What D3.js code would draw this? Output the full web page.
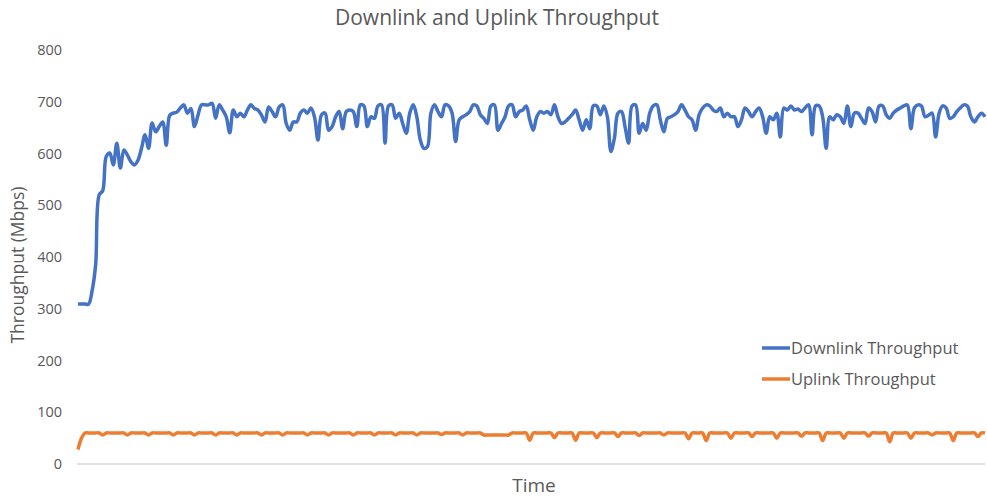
<!DOCTYPE html>
<html>
<head>
<meta charset="utf-8">
<script src="https://cdn.jsdelivr.net/npm/d3@7"></script>
<style>
  body { margin: 0; background: #fff; }
  text { font-family: "Open Sans", sans-serif; fill: #595959; }
</style>
</head>
<body>
<div id="container"></div>
<script>
// throughput samples in Mbps, one per time step
const downlink = [
  309, 309, 309, 309, 335, 385, 520, 528,
  594, 601, 578, 620, 572, 607, 597, 584, 578, 587, 610, 636, 610, 659, 642, 652, 661, 616, 674, 678, 680, 688, 694, 678,
  687, 652, 674, 694, 694, 694, 697, 668, 694, 684, 671, 640, 684, 671, 678, 671, 684, 694, 687, 684, 674, 661, 690, 681, 671, 690,
  694, 658, 645, 661, 661, 678, 684, 678, 688, 671, 626, 675, 678, 645, 652, 671, 681, 648, 681, 684,
  681, 652, 694, 692, 652, 671, 668, 692, 694, 620, 692, 694, 668, 678, 658, 639, 678, 694, 671, 626,
  610, 613, 678, 694, 681, 671, 694, 692, 678, 623, 665, 671, 675, 681, 694, 692, 675, 668, 658, 692,
  694, 645, 658, 671, 692, 694, 671, 681, 684,
  692, 665, 645, 671, 681, 678, 681, 675, 694, 671, 658, 661, 668, 675, 684, 665, 645, 665, 648,
  692, 692, 675, 692, 671, 604, 630, 678, 681, 652, 620, 692, 694, 639, 658, 645, 678, 692, 694, 665,
  642, 668, 671, 675, 681, 694, 684, 671, 665, 645, 675, 688, 694, 692, 684, 681, 688, 671, 678, 671,
  671, 652, 665, 688, 681, 671, 681, 688,
  671, 639, 671, 665, 678, 632, 688, 684, 692, 684, 686, 681, 688, 694, 636, 692, 692, 671, 610, 671,
  665, 675, 671, 658, 692, 652, 678, 678, 668, 658, 688, 681, 661, 692, 692, 675, 668, 678, 684, 688,
  692, 694, 648, 688, 694, 692, 671, 674, 678, 632, 678, 692, 688, 668, 671, 681, 688, 694, 692, 671,
  661, 671, 678, 671
];

const uplink = [
  28, 50, 60, 60, 60, 60, 60, 56, 60, 60,
  60, 60, 60, 60, 56, 60, 60, 60, 60, 60,
  56, 60, 60, 60, 60, 60, 60, 56, 60, 60,
  60, 60, 60, 56, 60, 60, 60, 60, 60, 56,
  60, 60, 60, 60, 60, 56, 60, 60, 60, 60,
  60, 60, 56, 60, 60, 60, 60, 60, 56, 60,
  60, 60, 60, 60, 60, 56, 60, 60, 60, 60,
  60, 56, 60, 60, 60, 60, 60, 60, 56, 60,
  60, 60, 60, 60, 56, 60, 60, 60, 60, 60,
  56, 60, 60, 60, 60, 60, 56, 60, 60, 60,
  60, 60, 60, 57, 60, 60, 60, 60, 60, 56,
  60, 60, 60, 60, 60, 56, 56, 56, 56, 56,
  56, 56, 56, 60, 60, 60, 60, 60, 46, 60,
  60, 60, 60, 60, 60, 51, 60, 60, 60, 60,
  60, 46, 60, 60, 60, 60, 60, 51, 60, 60,
  60, 60, 60, 53, 60, 60, 60, 60, 60, 55,
  60, 60, 60, 60, 60, 60, 56, 60, 60, 60,
  60, 60, 60, 49, 60, 60, 60, 60, 45, 60,
  60, 60, 60, 60, 60, 50, 60, 60, 60, 60,
  60, 53, 60, 60, 60, 60, 60, 60, 50, 60,
  60, 60, 60, 60, 60, 54, 60, 60, 60, 60,
  60, 45, 60, 60, 60, 60, 60, 50, 60, 60,
  60, 60, 60, 60, 54, 60, 60, 60, 60, 60,
  43, 60, 60, 60, 60, 60, 50, 60, 60, 60,
  60, 60, 56, 60, 60, 60, 60, 60, 45, 60,
  60, 60, 60, 60, 60, 53, 60, 60
];

const yTicks = [0, 100, 200, 300, 400, 500, 600, 700, 800];
const seriesNames = ["Downlink Throughput", "Uplink Throughput"];
const seriesColors = ["#4472c4", "#ed7d31"];

const width = 987, height = 498;
const margin = { top: 50, right: 2, bottom: 34, left: 78 };

const svg = d3.select("#container").append("svg")
  .attr("width", width)
  .attr("height", height);

const x = d3.scaleLinear()
  .domain([0, downlink.length - 1])
  .range([margin.left, width - margin.right]);

const y = d3.scaleLinear()
  .domain([0, 800])
  .range([height - margin.bottom, margin.top]);

// y axis: labels only, no line or gridlines
const yAxis = svg.append("g")
  .attr("transform", `translate(${margin.left - 8},0)`)
  .call(d3.axisLeft(y).tickValues(yTicks).tickSize(0).tickPadding(8));
yAxis.select(".domain").remove();
yAxis.selectAll("text")
  .style("font-family", "'Open Sans', sans-serif")
  .style("font-size", "14.5px")
  .attr("fill", "#595959");

// baseline
svg.append("line")
  .attr("x1", margin.left - 1)
  .attr("x2", width - margin.right)
  .attr("y1", y(0))
  .attr("y2", y(0))
  .attr("stroke", "#d9d9d9")
  .attr("stroke-width", 1.5);

// smoothed line, like the spreadsheet original
const line = d3.line()
  .x((d, i) => x(i))
  .y(d => y(d))
  .curve(d3.curveCatmullRom.alpha(0.5));

[downlink, uplink].forEach((data, k) => {
  svg.append("path")
    .datum(data)
    .attr("fill", "none")
    .attr("stroke", seriesColors[k])
    .attr("stroke-width", 3.5)
    .attr("stroke-linejoin", "round")
    .attr("d", line);
});

// title and axis titles
svg.append("text")
  .attr("x", 497)
  .attr("y", 25)
  .attr("text-anchor", "middle")
  .style("font-size", "21px")
  .text("Downlink and Uplink Throughput");

svg.append("text")
  .attr("transform", `translate(24,265) rotate(-90)`)
  .attr("text-anchor", "middle")
  .style("font-size", "17.5px")
  .text("Throughput (Mbps)");

svg.append("text")
  .attr("x", 534)
  .attr("y", 492)
  .attr("text-anchor", "middle")
  .style("font-size", "19px")
  .text("Time");

// legend
const legend = svg.append("g").attr("transform", "translate(762,348)");
seriesNames.forEach((name, k) => {
  const g = legend.append("g").attr("transform", `translate(0,${k * 31})`);
  g.append("line")
    .attr("x1", 0).attr("x2", 28)
    .attr("stroke", seriesColors[k])
    .attr("stroke-width", 3.5);
  g.append("text")
    .attr("x", 29)
    .attr("y", 6)
    .style("font-size", "16.5px")
    .text(name);
});
</script>
</body>
</html>
